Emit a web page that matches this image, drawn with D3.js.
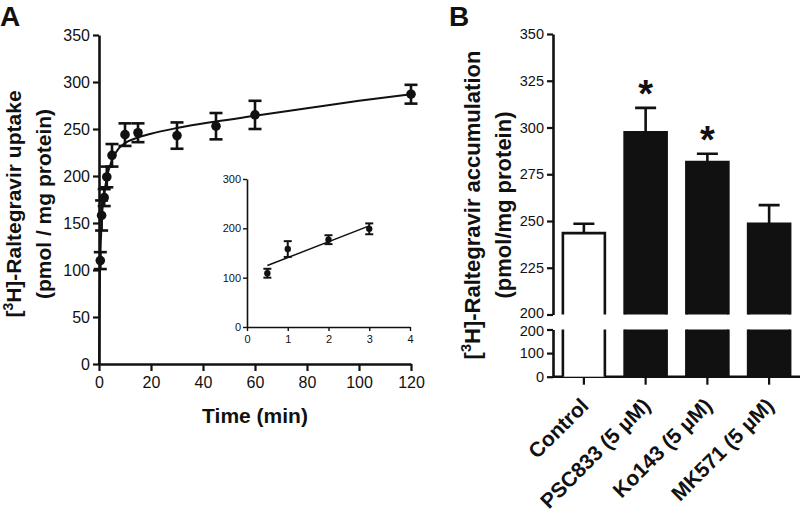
<!DOCTYPE html>
<html>
<head>
<meta charset="utf-8">
<script src="https://cdn.jsdelivr.net/npm/d3@7"></script>
<style>
  html, body { margin: 0; padding: 0; background: #fff; }
  svg { display: block; }
  text { font-family: "Liberation Sans", Arial, Helvetica, sans-serif; fill: #111; }
</style>
</head>
<body>
<svg id="chart" width="800" height="511"></svg>
<script>
// ---------- Panel A data ----------
const timeMin     = [0.5, 1, 2, 3, 5, 10, 15, 30, 45, 60, 120];
const uptake      = [110, 158, 177, 199, 222, 244, 246, 243, 253, 265, 287];
const uptakeErr   = [9, 16, 9, 11, 12, 12, 10, 14, 14, 15, 10];
// fitted curve
const curveT      = [0, 0.15, 0.3, 0.5, 1, 2, 3, 5, 7.5, 10, 15, 20, 30, 45, 60, 80, 100, 120];
const curveY      = [0, 50, 85, 112, 150, 181, 198, 217, 229, 235, 241, 245, 251, 258, 264, 272, 280, 287];
const aYTicks     = [0, 50, 100, 150, 200, 250, 300, 350];
const aXTicks     = [0, 20, 40, 60, 80, 100, 120];

// inset (first 3 min)
const insetT      = [0.5, 1, 2, 3];
const insetY      = [109, 158, 177, 199];
const insetErr    = [9, 16, 9, 11];
const insetYTicks = [0, 100, 200, 300];
const insetXTicks = [0, 1, 2, 3, 4];

// ---------- Panel B data ----------
const groups      = ["Control", "PSC833 (5 µM)", "Ko143 (5 µM)", "MK571 (5 µM)"];
const accum       = [243.5, 297.5, 281.5, 248.5];
const accumErr    = [5, 13, 4.5, 10];
const filled      = [false, true, true, true];
const significant = [false, true, true, false];
const bUpperTicks = [200, 225, 250, 275, 300, 325, 350];
const bLowerTicks = [0, 100, 200];

const svg = d3.select("#chart");
const ink = "#111";
const FONT = "Liberation Sans, Arial, sans-serif";

// ================= PANEL A =================
const xA = d3.scaleLinear().domain([0, 120]).range([99, 411]);
const yA = d3.scaleLinear().domain([0, 350]).range([364, 35]);

svg.append("text").attr("x", 0).attr("y", 26)
  .attr("font-size", 28).attr("font-weight", "bold").text("A");

const gAy = svg.append("g").attr("transform", `translate(${xA(0)},0)`)
  .call(d3.axisLeft(yA).tickValues(aYTicks).tickSize(6).tickPadding(3).tickSizeOuter(0));
const gAx = svg.append("g").attr("transform", `translate(0,${yA(0)})`)
  .call(d3.axisBottom(xA).tickValues(aXTicks).tickSize(7).tickPadding(6).tickSizeOuter(0));
[gAy, gAx].forEach(g => {
  g.select(".domain").attr("stroke", ink).attr("stroke-width", 2.6);
  g.selectAll(".tick line").attr("stroke", ink).attr("stroke-width", 2.2);
  g.selectAll(".tick text").attr("font-size", 16).attr("fill", ink).attr("font-family", FONT);
});

// curve
const lineA = d3.line().x((d, i) => xA(curveT[i])).y((d, i) => yA(curveY[i]))
  .curve(d3.curveMonotoneX);
svg.append("path").datum(curveT).attr("d", lineA)
  .attr("fill", "none").attr("stroke", ink).attr("stroke-width", 2);

// error bars
const capA = 6.5;
const ebA = svg.append("g").attr("stroke", ink).attr("stroke-width", 2.6);
timeMin.forEach((t, i) => {
  const x = xA(t), y1 = yA(uptake[i] + uptakeErr[i]), y0 = yA(uptake[i] - uptakeErr[i]);
  ebA.append("line").attr("x1", x).attr("x2", x).attr("y1", y1).attr("y2", y0);
  ebA.append("line").attr("x1", x - capA).attr("x2", x + capA).attr("y1", y1).attr("y2", y1);
  ebA.append("line").attr("x1", x - capA).attr("x2", x + capA).attr("y1", y0).attr("y2", y0);
});
svg.append("g").selectAll("circle").data(timeMin).join("circle")
  .attr("cx", d => xA(d)).attr("cy", (d, i) => yA(uptake[i])).attr("r", 4.8).attr("fill", ink);

// titles
svg.append("text").attr("x", 255).attr("y", 423).attr("text-anchor", "middle")
  .attr("font-size", 21).attr("font-weight", "bold").text("Time (min)");

function yTitle(x, y, main, sub, size) {
  const t1 = svg.append("text").attr("transform", `translate(${x[0]},${y}) rotate(-90)`)
    .attr("text-anchor", "middle").attr("font-size", size).attr("font-weight", "bold");
  t1.append("tspan").text("[");
  t1.append("tspan").attr("font-size", size * 0.66).attr("dy", -size * 0.4).text("3");
  t1.append("tspan").attr("dy", size * 0.4).text("H]-" + main);
  svg.append("text").attr("transform", `translate(${x[1]},${y}) rotate(-90)`)
    .attr("text-anchor", "middle").attr("font-size", size).attr("font-weight", "bold")
    .text(sub);
}
yTitle([21, 51], 204, "Raltegravir uptake", "(pmol / mg protein)", 21);

// ---------- inset ----------
const xI = d3.scaleLinear().domain([0, 4]).range([247, 410]);
const yI = d3.scaleLinear().domain([0, 300]).range([327, 179]);
const gIy = svg.append("g").attr("transform", `translate(${xI(0)},0)`)
  .call(d3.axisLeft(yI).tickValues(insetYTicks).tickSize(4).tickPadding(2).tickSizeOuter(0));
const gIx = svg.append("g").attr("transform", `translate(0,${yI(0)})`)
  .call(d3.axisBottom(xI).tickValues(insetXTicks).tickFormat(d3.format("d"))
    .tickSize(4).tickPadding(4).tickSizeOuter(0));
[gIy, gIx].forEach(g => {
  g.select(".domain").attr("stroke", ink).attr("stroke-width", 1.6);
  g.selectAll(".tick line").attr("stroke", ink).attr("stroke-width", 1.4);
  g.selectAll(".tick text").attr("font-size", 11).attr("fill", ink).attr("font-family", FONT);
});
// regression line through inset points
const mx = d3.mean(insetT), my = d3.mean(insetY);
const slope = d3.sum(insetT, (t, i) => (t - mx) * (insetY[i] - my)) / d3.sum(insetT, t => (t - mx) * (t - mx));
const icpt = my - slope * mx;
const xr = d3.extent(insetT);
svg.append("line")
  .attr("x1", xI(xr[0])).attr("y1", yI(icpt + slope * xr[0]))
  .attr("x2", xI(xr[1])).attr("y2", yI(icpt + slope * xr[1]))
  .attr("stroke", ink).attr("stroke-width", 1.5);
const capI = 4;
const ebI = svg.append("g").attr("stroke", ink).attr("stroke-width", 2);
insetT.forEach((t, i) => {
  const x = xI(t), y1 = yI(insetY[i] + insetErr[i]), y0 = yI(insetY[i] - insetErr[i]);
  ebI.append("line").attr("x1", x).attr("x2", x).attr("y1", y1).attr("y2", y0);
  ebI.append("line").attr("x1", x - capI).attr("x2", x + capI).attr("y1", y1).attr("y2", y1);
  ebI.append("line").attr("x1", x - capI).attr("x2", x + capI).attr("y1", y0).attr("y2", y0);
});
svg.append("g").selectAll("circle").data(insetT).join("circle")
  .attr("cx", d => xI(d)).attr("cy", (d, i) => yI(insetY[i])).attr("r", 3.2).attr("fill", ink);

// ================= PANEL B =================
svg.append("text").attr("x", 449).attr("y", 26)
  .attr("font-size", 28).attr("font-weight", "bold").text("B");

const xB = d3.scaleBand().domain(groups).range([553, 800]).paddingInner(0.32).paddingOuter(0.16);
const yBu = d3.scaleLinear().domain([200, 350]).range([314.5, 34]);
const yBl = d3.scaleLinear().domain([0, 200]).range([376.7, 329.5]);

const gBu = svg.append("g").attr("transform", "translate(553,0)")
  .call(d3.axisLeft(yBu).tickValues(bUpperTicks).tickSize(6).tickPadding(3).tickSizeOuter(0));
const gBl = svg.append("g").attr("transform", "translate(553,0)")
  .call(d3.axisLeft(yBl).tickValues(bLowerTicks).tickSize(6).tickPadding(3).tickSizeOuter(0));
const gBx = svg.append("g").attr("transform", `translate(0,${yBl(0)})`)
  .call(d3.axisBottom(xB).tickSize(8).tickFormat("").tickSizeOuter(0));
[gBu, gBl, gBx].forEach(g => {
  g.select(".domain").attr("stroke", ink).attr("stroke-width", 2.6);
  g.selectAll(".tick line").attr("stroke", ink).attr("stroke-width", 2.2);
  g.selectAll(".tick text").attr("font-size", 14.5).attr("fill", ink).attr("font-family", FONT);
});
// nudge the two "200" labels at the axis break apart slightly
gBu.selectAll(".tick text").filter(d => d === 200).attr("dy", "0.22em");
gBl.selectAll(".tick text").filter(d => d === 200).attr("dy", "0.42em");
gBx.select(".domain").attr("d", "M553,0H800");

// bars: upper segment (200 -> value) and lower segment (0 -> 200)
const bw = xB.bandwidth();
groups.forEach((g, i) => {
  const x0 = xB(g), x1 = x0 + bw;
  const fill = filled[i] ? ink : "#fff";
  const yt = yBu(accum[i]), yb = yBu(200);
  svg.append("rect").attr("x", x0).attr("y", yt).attr("width", bw).attr("height", yb - yt).attr("fill", fill);
  const lt = yBl(200), lb = yBl(0);
  svg.append("rect").attr("x", x0).attr("y", lt).attr("width", bw).attr("height", lb - lt).attr("fill", fill);
  svg.append("path")
    .attr("d", `M${x0},${yb}V${yt}H${x1}V${yb}M${x0},${lt}V${lb}M${x1},${lt}V${lb}`)
    .attr("fill", "none").attr("stroke", ink).attr("stroke-width", 2.6);
  const xc = x0 + bw / 2, ye = yBu(accum[i] + accumErr[i]);
  svg.append("path").attr("d", `M${xc},${yt}V${ye}M${xc - 10.5},${ye}H${xc + 10.5}`)
    .attr("stroke", ink).attr("stroke-width", 2.6).attr("fill", "none");
  if (significant[i]) {
    svg.append("text").attr("x", xc).attr("y", ye - 1).attr("text-anchor", "middle")
      .attr("font-size", 38).attr("font-weight", "bold").text("*");
  }
  svg.append("text").attr("transform", `translate(${xc + 6},${407}) rotate(-45)`)
    .attr("text-anchor", "end").attr("font-size", 21).attr("font-weight", "bold").text(g);
});

yTitle([480, 511], 205, "Raltegravir accumulation", "(pmol/mg protein)", 22);
</script>
</body>
</html>
